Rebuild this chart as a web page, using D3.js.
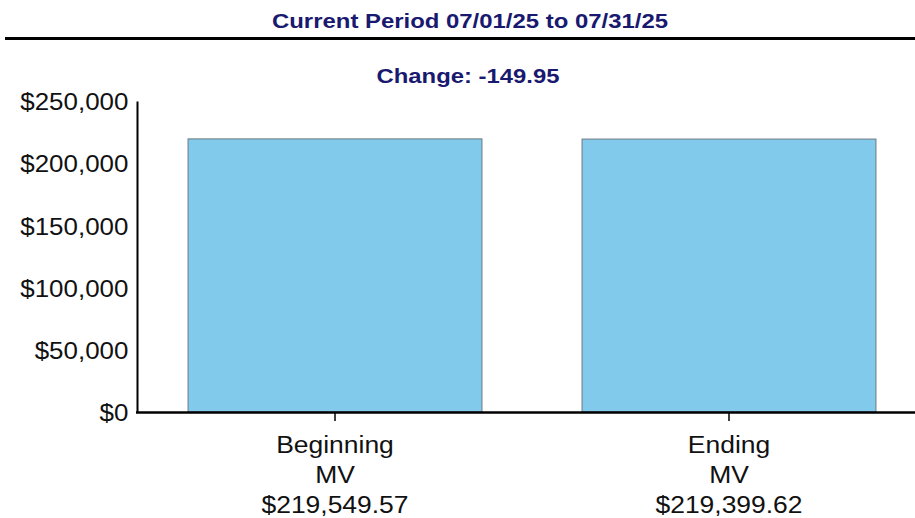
<!DOCTYPE html>
<html>
<head>
<meta charset="utf-8">
<script src="https://d3js.org/d3.v7.min.js"></script>
<style>
    body { margin: 0; background: #fff; }
    text { font-family: Arial, "Liberation Sans", sans-serif; }
    .title-text { font-weight: bold; fill: #191970; }
</style>
</head>
<body>
<svg id="vis"></svg>
<script>
    var width = 915,
        height = 518;

    // data
    var categories = ["Beginning", "Ending"];
    var labelLines = [["Beginning", "MV", "$219,549.57"], ["Ending", "MV", "$219,399.62"]];
    var values = [219549.57, 219399.62];
    var yTicks = [0, 50000, 100000, 150000, 200000, 250000];
    var titleText = "Current Period 07/01/25 to 07/31/25";
    var changeText = "Change: -149.95";

    // the original text is a little wider than Arial
    var stretch = 1.08;

    var svg = d3.select("#vis").attr("width", width).attr("height", height);

    // header
    svg.append("text")
        .attr("class", "title-text")
        .attr("x", 470)
        .attr("y", 28)
        .attr("text-anchor", "middle")
        .attr("textLength", 396)
        .attr("lengthAdjust", "spacingAndGlyphs")
        .style("font-size", "21px")
        .text(titleText);

    svg.append("rect")
        .attr("x", 5)
        .attr("y", 37)
        .attr("width", width - 5)
        .attr("height", 3)
        .attr("fill", "black");

    svg.append("text")
        .attr("class", "title-text")
        .attr("x", 468)
        .attr("y", 83)
        .attr("text-anchor", "middle")
        .attr("textLength", 183)
        .attr("lengthAdjust", "spacingAndGlyphs")
        .style("font-size", "21px")
        .text(changeText);

    // scales
    var x = d3.scaleBand()
        .domain(categories)
        .range([138, 926])
        .paddingInner(0.254)
        .paddingOuter(0.127);

    var y = d3.scaleLinear()
        .domain([0, 250000])
        .range([412, 101]);

    // bars
    svg.selectAll(".bar")
        .data(values)
        .enter()
        .append("rect")
        .attr("class", "bar")
        .attr("x", (d, i) => x(categories[i]))
        .attr("y", d => y(d))
        .attr("width", x.bandwidth())
        .attr("height", d => y(0) - y(d))
        .attr("fill", "#82caeb")
        .attr("stroke", "#6e7880")
        .attr("stroke-width", 1);

    // y axis
    var yAxis = svg.append("g")
        .attr("transform", "translate(137,0)")
        .call(d3.axisLeft(y).tickValues(yTicks).tickSize(0).tickPadding(8)
            .tickFormat(d => "$" + d3.format(",")(d)));
    yAxis.select(".domain").attr("stroke", "black").attr("stroke-width", 2);
    yAxis.selectAll("text")
        .style("font-size", "24px")
        .attr("dy", "0.36em")
        .attr("transform", `scale(${stretch},1)`)
        .attr("fill", "#111")
        .attr("font-family", "Arial, 'Liberation Sans', sans-serif");

    // x axis
    svg.append("line")
        .attr("x1", 136)
        .attr("x2", width)
        .attr("y1", 412.5)
        .attr("y2", 412.5)
        .attr("stroke", "black")
        .attr("stroke-width", 2.5);

    var xg = svg.append("g");
    categories.forEach((c, i) => {
        var cx = x(c) + x.bandwidth() / 2;
        xg.append("line")
            .attr("x1", cx).attr("x2", cx)
            .attr("y1", 413).attr("y2", 421)
            .attr("stroke", "black")
            .attr("stroke-width", 1.5);
        labelLines[i].forEach((t, j) => {
            xg.append("text")
                .attr("transform", `translate(${cx},${453 + j * 30}) scale(${stretch},1)`)
                .attr("text-anchor", "middle")
                .style("font-size", "24.5px")
                .attr("fill", "#111")
                .text(t);
        });
    });
</script>
</body>
</html>
